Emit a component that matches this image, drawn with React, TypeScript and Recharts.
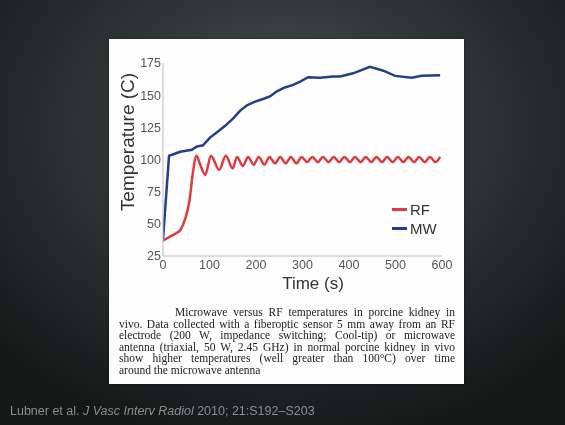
import React from "react";
import { LineChart, Line, XAxis, YAxis, Legend } from "recharts";

// RF electrode series (time s, temperature C)
const rfTime = [
  0, 10, 20, 30, 37, 47, 57, 64, 72, 80, 91, 103, 121, 135, 150, 159, 172,
  183, 195, 206, 218, 229, 241, 252, 264, 275, 287, 298, 310, 321, 333, 344,
  356, 367, 379, 390, 402, 413, 425, 436, 448, 459, 471, 482, 494, 505, 517,
  528, 540, 551, 563, 574, 586, 596,
];
const rfTemp = [
  37, 39, 41, 43, 45, 53, 68, 89, 103, 96, 88, 103, 92, 103, 93, 102, 95,
  102, 96, 102, 96, 102, 97, 102, 97, 102, 97, 102, 98, 102, 98, 102,
  98, 102, 98, 102, 98, 102, 98, 102, 98, 102, 98, 102, 98, 102, 98,
  102, 98, 102, 98, 102, 98, 102,
];

// Microwave antenna series
const mwTime = [
  0, 13, 18, 37, 62, 72, 86, 101, 119, 133, 151, 166, 180, 198, 215, 230,
  245, 262, 280, 295, 312, 338, 366, 381, 409, 445, 474, 499, 535, 556, 596,
];
const mwTemp = [
  38, 103, 103.5, 106, 107.5, 110, 111, 117, 122, 126, 132, 138, 142, 145,
  147, 149, 153, 156, 158, 160.5, 164, 163.5, 164.5, 164.5, 167, 172, 169,
  165, 163.5, 165, 165.5,
];

const xTicks = [0, 100, 200, 300, 400, 500, 600];
const yTicks = [25, 50, 75, 100, 125, 150, 175];
const seriesOrder = ["RF", "MW"];

const captionLines = [
  "Microwave versus RF temperatures in porcine kidney in",
  "vivo. Data collected with a fiberoptic sensor 5 mm away from an RF",
  "electrode (200 W, impedance switching; Cool-tip) or microwave",
  "antenna (triaxial, 50 W, 2.45 GHz) in normal porcine kidney in vivo",
  "show higher temperatures (well greater than 100°C) over time",
  "around the microwave antenna",
];

const RED = "#e03a3e";
const BLUE = "#243f86";

const rfData = rfTime.map((t, i) => ({ time: t, temp: rfTemp[i] }));
const mwData = mwTime.map((t, i) => ({ time: t, temp: mwTemp[i] }));

const LegendBox = ({ payload }: any) => {
  const items = [...(payload || [])].sort(
    (a: any, b: any) => seriesOrder.indexOf(a.value) - seriesOrder.indexOf(b.value)
  );
  return (
    <div style={{ fontFamily: "Liberation Sans, Arial, sans-serif", fontSize: 15 }}>
      {items.map((p: any) => (
        <div
          key={p.value}
          style={{ display: "flex", alignItems: "center", height: 19, color: "#333" }}
        >
          <div style={{ width: 15, height: 3, background: p.color, marginRight: 3 }} />
          {p.value}
        </div>
      ))}
    </div>
  );
};

export default function App() {
  return (
    <div
      style={{
        position: "fixed",
        left: 0,
        top: 0,
        width: 565,
        height: 425,
        overflow: "hidden",
        background:
          "radial-gradient(ellipse 70% 75% at 50% 30%, #4a5252 0%, #2f3535 45%, #161818 100%)",
      }}
    >
      <div
        style={{
          position: "absolute",
          left: 109,
          top: 39,
          width: 355,
          height: 345,
          background: "#fdfdfd",
          boxShadow: "0 0 2px rgba(0,0,0,0.5)",
        }}
      >
        <LineChart
          width={355}
          height={260}
          margin={{ top: 24, right: 22, bottom: 13, left: 0 }}
        >
          <XAxis
            type="number"
            dataKey="time"
            domain={[0, 600]}
            ticks={xTicks}
            allowDataOverflow
            stroke="#bbb"
            tickLine={false}
            tickSize={0}
            tickMargin={4}
            height={30}
            tick={{ fill: "#555", fontSize: 12.5, fontFamily: "Liberation Sans, Arial" }}
            label={{
              content: () => (
                <text
                  x={204}
                  y={250}
                  textAnchor="middle"
                  fontSize={17}
                  fontFamily="Liberation Sans, Arial"
                  fill="#333"
                >
                  Time (s)
                </text>
              ),
            }}
          />
          <YAxis
            type="number"
            dataKey="temp"
            domain={[25, 175]}
            ticks={yTicks}
            allowDataOverflow
            width={54}
            stroke="#bbb"
            tickLine={false}
            tickSize={0}
            tickMargin={2}
            tick={{ fill: "#555", fontSize: 12.5, fontFamily: "Liberation Sans, Arial" }}
            label={{
              content: () => (
                <text
                  x={0}
                  y={0}
                  transform="translate(25,103) rotate(-90)"
                  textAnchor="middle"
                  fontSize={19}
                  fontFamily="Liberation Sans, Arial"
                  fill="#333"
                >
                  Temperature (C)
                </text>
              ),
            }}
          />
          <Legend
            layout="vertical"
            verticalAlign="middle"
            align="center"
            wrapperStyle={{ left: 283, top: 161, width: 60 }}
            content={LegendBox}
          />
          <Line
            data={rfData}
            dataKey="temp"
            name="RF"
            type="monotone"
            stroke={RED}
            strokeWidth={2.5}
            dot={false}
            isAnimationActive={false}
          />
          <Line
            data={mwData}
            dataKey="temp"
            name="MW"
            type="linear"
            stroke={BLUE}
            strokeWidth={2.5}
            dot={false}
            isAnimationActive={false}
          />
        </LineChart>
        <div
          style={{
            position: "absolute",
            left: 10,
            top: 268,
            width: 336,
            fontFamily: "Liberation Serif, serif",
            fontSize: 11.5,
            lineHeight: "11.5px",
            color: "#222",
          }}
        >
          {captionLines.map((line, i) => (
            <div
              key={i}
              style={{
                whiteSpace: "nowrap",
                textAlign: i < captionLines.length - 1 ? "justify" : "left",
                textAlignLast: i < captionLines.length - 1 ? "justify" : "left",
                paddingLeft: i === 0 ? 56 : 0,
              }}
            >
              {line}
            </div>
          ))}
        </div>
      </div>
      <div
        style={{
          position: "absolute",
          left: 10,
          top: 404,
          fontFamily: "Liberation Sans, Arial, sans-serif",
          fontSize: 12.5,
          color: "#8a8e8e",
          whiteSpace: "nowrap",
        }}
      >
        Lubner et al. <i>J Vasc Interv Radiol</i> 2010; 21:S192–S203
      </div>
    </div>
  );
}
